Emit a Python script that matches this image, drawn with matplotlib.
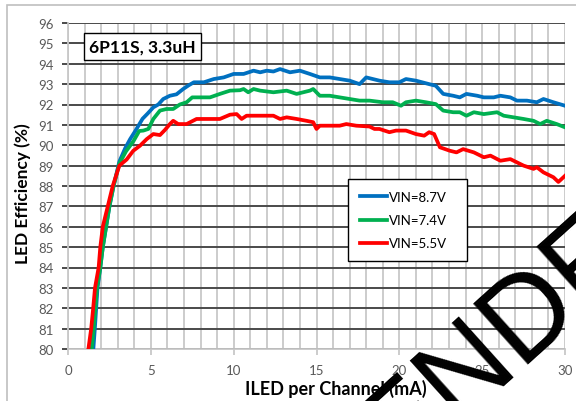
import matplotlib
matplotlib.use('Agg')
import matplotlib.pyplot as plt
from matplotlib.patches import Rectangle

plt.rcParams['font.family'] = ['Lato', 'DejaVu Sans']

# efficiency vs LED current, one curve per input voltage
iled_87 = [1.53, 1.62, 1.70, 1.78, 1.95, 2.10, 2.30, 2.50, 2.75, 3.10, 3.45, 3.75, 4.1, 4.5, 4.8, 5.15, 5.45,
           5.75, 6.15, 6.55, 6.95, 7.3, 7.6, 8.2, 8.8, 9.4, 10.0, 10.6, 11.2, 11.6, 12.0, 12.4, 12.8, 13.4, 14.0,
           14.6, 15.2, 15.8, 16.4, 17.0, 17.6, 18.0, 18.8, 19.4, 20.0, 20.4, 21.0, 21.8, 22.2, 22.65, 23.25,
           23.65, 24.05, 24.7, 25.1, 25.7, 26.1, 26.7, 27.1, 27.7, 28.3, 28.7, 29.3, 30.0]
eff_87 = [80, 81, 82, 83, 84, 85, 86, 87, 88, 89.2, 89.85, 90.3, 90.75, 91.3, 91.55, 91.86, 92.0,
          92.27, 92.43, 92.5, 92.76, 92.95, 93.09, 93.09, 93.25, 93.33, 93.5, 93.5, 93.66, 93.58, 93.66, 93.62,
          93.74, 93.58, 93.66, 93.5, 93.33, 93.33, 93.25, 93.17, 93.0, 93.33, 93.17, 93.09, 93.09, 93.25, 93.17,
          93.0, 92.92, 92.52, 92.43, 92.35, 92.52, 92.43, 92.35, 92.35, 92.43, 92.35, 92.19, 92.19, 92.11,
          92.27, 92.11, 91.94]

iled_74 = [1.43, 1.55, 1.65, 1.75, 1.95, 2.10, 2.30, 2.50, 2.75, 3.10, 3.5, 3.95, 4.3, 4.55, 4.85, 5.15, 5.55,
           5.95, 6.35, 6.75, 7.16, 7.5, 7.97, 8.57, 9.17, 9.78, 10.38, 10.6, 10.88, 11.2, 11.6, 12.4, 13.2, 13.8,
           14.6, 14.8, 15.2, 15.8, 16.4, 17.0, 17.6, 18.2, 19.0, 19.6, 20.1, 20.4, 21.0, 21.6, 22.2, 22.65,
           23.25, 23.65, 24.05, 24.5, 25.1, 25.9, 26.3, 26.9, 27.5, 28.1, 28.5, 28.9, 29.5, 30.0]
eff_74 = [80, 81, 82, 83, 84, 85, 86, 87, 88, 89.1, 89.7, 90.2, 90.7, 90.72, 90.8, 91.29, 91.7,
          91.78, 91.78, 92.0, 92.11, 92.35, 92.35, 92.35, 92.52, 92.68, 92.7, 92.76, 92.6, 92.76, 92.68, 92.6,
          92.68, 92.52, 92.68, 92.76, 92.43, 92.43, 92.35, 92.27, 92.19, 92.19, 92.11, 92.11, 91.94, 92.11,
          92.19, 92.11, 92.02, 91.7, 91.62, 91.62, 91.45, 91.62, 91.53, 91.62, 91.45, 91.37, 91.29, 91.2,
          91.04, 91.2, 91.04, 90.88]

iled_55 = [1.23, 1.40, 1.52, 1.63, 1.85, 1.95, 2.10, 2.40, 2.70, 3.10, 3.54, 3.94, 4.35, 4.75, 5.15, 5.55,
           5.85, 6.15, 6.35, 6.65, 7.16, 7.76, 8.37, 9.17, 9.78, 10.18, 10.48, 10.78, 11.6, 12.4, 12.8, 13.2,
           13.8, 14.4, 14.8, 15.0, 15.2, 15.8, 16.4, 16.8, 17.4, 18.2, 18.5, 18.8, 19.4, 19.8, 20.4, 21.0, 21.5,
           21.8, 22.1, 22.45, 23.05, 23.45, 23.85, 24.5, 25.1, 25.5, 26.1, 26.7, 27.5, 28.1, 28.3, 28.7, 29.3,
           29.6, 30.0]
eff_55 = [80, 81, 82, 83, 84, 85, 86, 87, 88, 89.0, 89.3, 89.73, 89.98, 90.3, 90.55, 90.5,
          90.75, 91.04, 91.2, 91.04, 91.04, 91.29, 91.29, 91.29, 91.5, 91.53, 91.29, 91.45, 91.45, 91.45,
          91.29, 91.37, 91.29, 91.2, 91.13, 90.8, 90.96, 90.96, 90.96, 91.04, 90.96, 90.92, 90.8, 90.8, 90.64,
          90.72, 90.72, 90.55, 90.47, 90.64, 90.55, 89.9, 89.73, 89.65, 89.81, 89.65, 89.41, 89.49, 89.24,
          89.32, 89.0, 88.84, 88.92, 88.67, 88.43, 88.2, 88.5]

series_labels = ['VIN=8.7V', 'VIN=7.4V', 'VIN=5.5V']
series_colors = ['#0070C0', '#00B050', '#FF0000']
note_text = '6P11S, 3.3uH'
x_ticks = [0, 5, 10, 15, 20, 25, 30]
y_ticks = list(range(80, 97))

fig = plt.figure(figsize=(5.76, 4.02), dpi=100)
ax = fig.add_axes([68/576, 1-350/402, 497/576, 326/402])

# outer chart frame
fig.patches.append(Rectangle((6.5/576, -0.05), 1.1, 1-6/402+0.05, transform=fig.transFigure,
                             fill=False, edgecolor='#bfbfbf', linewidth=1.2, zorder=0))

ax.set_xlim(0, 30)
ax.set_ylim(80, 96)
for v in range(0, 31):
    ax.axvline(v, color='#c8c8c8', linewidth=1.3, zorder=1)
for v in y_ticks:
    ax.axhline(v, color='#4a4a4a', linewidth=1.4, zorder=1)

for xs, ys, lab, col in zip([iled_87, iled_74, iled_55], [eff_87, eff_74, eff_55], series_labels, series_colors):
    ax.plot(xs, ys, color=col, linewidth=2.7, label=lab, zorder=3, solid_joinstyle='round')

for s in ['top', 'right']:
    ax.spines[s].set_visible(False)
ax.spines['left'].set_color('#c8c8c8')
ax.spines['bottom'].set_color('#c8c8c8')
ax.spines['left'].set_linewidth(1.3)
ax.spines['bottom'].set_linewidth(1.3)

ax.set_xticks(x_ticks)
ax.set_yticks(y_ticks)
ax.tick_params(axis='x', colors='#c8c8c8', length=4, width=1.3, pad=7, labelsize=9.5, labelcolor='#595959')
ax.tick_params(axis='y', colors='#4a4a4a', length=4, width=1.4, pad=6, labelsize=9.5, labelcolor='#595959')

ax.set_xlabel('ILED per Channel (mA)', fontsize=13, fontweight='bold')
ax.xaxis.set_label_coords(0.539, -0.092)
ax.set_ylabel('LED Efficiency (%)', fontsize=12.5, fontweight='bold')
ax.yaxis.set_label_coords(-0.074, 0.48)

ax.text(1.27, 94.85, note_text, fontsize=12.5, fontweight='bold', va='center', ha='left', zorder=5,
        bbox=dict(boxstyle='square,pad=0.3', facecolor='white', edgecolor='black', linewidth=1.0))

leg = ax.legend(loc='upper left', bbox_to_anchor=(0.563, 0.291, 0.24, 0.23), mode='expand', fontsize=9.5,
                frameon=True, fancybox=False, edgecolor='black', framealpha=1, handlelength=2.1,
                handletextpad=0.1, labelspacing=0.85, borderpad=0.9, borderaxespad=0)
leg.get_frame().set_linewidth(1.0)
leg.set_zorder(6)

# stamp across the lower right corner
fig.text(488/576, 1-401/402, 'AMENDED', rotation=42, rotation_mode='anchor', ha='center', va='baseline',
         fontsize=85, family='Liberation Sans', color='black', zorder=10)

fig.savefig('out.png', dpi=100)
